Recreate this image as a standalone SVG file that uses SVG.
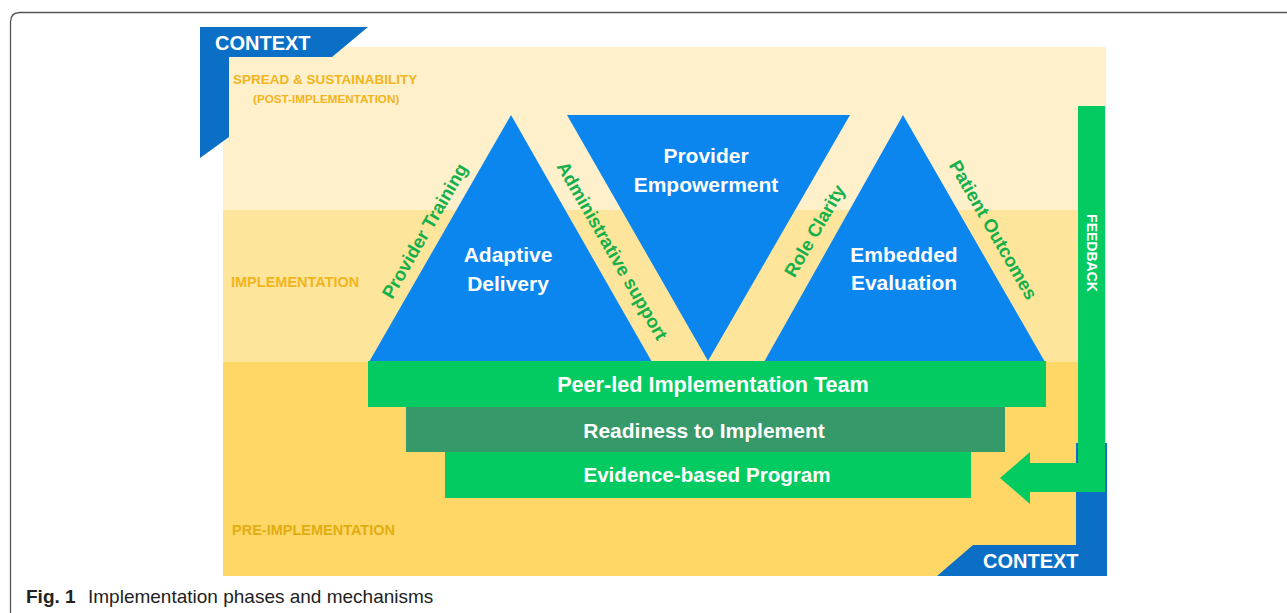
<svg xmlns="http://www.w3.org/2000/svg" width="1287" height="613" viewBox="0 0 1287 613">
  <style>
    .sans { font-family: "Liberation Sans", Arial, sans-serif; }
    .bold { font-weight: bold; }
    .white { fill: #ffffff; }
    .tri { fill: #0B86EE; }
    .ctx { fill: #0B6FC6; }
    .phase { font-family: "Liberation Sans", Arial, sans-serif; font-weight: bold; fill: #F2B51B; }
    .mech { font-family: "Liberation Sans", Arial, sans-serif; font-weight: bold; fill: #15B04B; font-size: 18.5px; }
    .node-label { font-family: "Liberation Sans", Arial, sans-serif; font-weight: bold; fill: #ffffff; font-size: 21px; text-anchor: middle; }
    .bar-green { fill: #03CB61; }
    .bar-dark { fill: #35996A; }
  </style>

  <rect x="0" y="0" width="1287" height="613" fill="#ffffff"/>

  <!-- figure frame -->
  <path d="M10.5,613 L10.5,22 Q10.5,12.5 20,12.5 L1287,12.5" fill="none" stroke="#555555" stroke-width="1.3"/>

  <!-- phase bands -->
  <g id="phase-post">
    <rect x="223" y="47" width="883" height="163" fill="#FEF0CB"/>
    <text class="phase" x="233" y="84" font-size="13.5">SPREAD &amp; SUSTAINABILITY</text>
    <text class="phase" x="253" y="103" font-size="11.7">(POST-IMPLEMENTATION)</text>
  </g>
  <g id="phase-implementation">
    <rect x="223" y="210" width="883" height="152" fill="#FEE59C"/>
    <text class="phase" x="231" y="287" font-size="14.5">IMPLEMENTATION</text>
  </g>
  <g id="phase-pre">
    <rect x="223" y="362" width="883" height="214" fill="#FED766"/>
    <text class="phase" x="232" y="535" font-size="14.5" style="fill:#E2AD12">PRE-IMPLEMENTATION</text>
  </g>

  <!-- context corners -->
  <g id="context-top">
    <polygon class="ctx" points="200,27 368,27 332,57 229,57 229,137 200,158"/>
    <text class="sans bold white" x="215" y="50" font-size="20">CONTEXT</text>
  </g>
  <g id="context-bottom">
    <polygon class="ctx" points="1076,443 1107,443 1107,576 937,576 973,545 1076,545"/>
    <text class="sans bold white" x="983" y="568" font-size="20">CONTEXT</text>
  </g>

  <!-- mechanisms -->
  <g id="adaptive-delivery">
    <polygon class="tri" points="511,115 652,362 369,362"/>
    <text class="node-label" x="508" y="262">Adaptive</text>
    <text class="node-label" x="508" y="291">Delivery</text>
  </g>
  <g id="provider-empowerment">
    <polygon class="tri" points="567,115 850,115 708,361"/>
    <text class="node-label" x="706" y="163">Provider</text>
    <text class="node-label" x="706" y="192">Empowerment</text>
  </g>
  <g id="embedded-evaluation">
    <polygon class="tri" points="903,115 1045,362 764,362"/>
    <text class="node-label" x="904" y="262">Embedded</text>
    <text class="node-label" x="904" y="290">Evaluation</text>
  </g>

  <!-- foundation layers -->
  <g id="peer-led-team">
    <rect class="bar-green" x="368" y="361" width="678" height="46"/>
    <text class="node-label" x="713" y="392" style="font-size:21.6px">Peer-led Implementation Team</text>
  </g>
  <g id="readiness">
    <rect class="bar-dark" x="406" y="407" width="599" height="45"/>
    <text class="node-label" x="704" y="438">Readiness to Implement</text>
  </g>
  <g id="evidence-based-program">
    <rect class="bar-green" x="445" y="452" width="526" height="46"/>
    <text class="node-label" x="707" y="482" style="font-size:20.6px">Evidence-based Program</text>
  </g>

  <!-- edge labels along the triangle sides -->
  <g id="edge-labels">
    <text class="mech" text-anchor="middle" transform="translate(425,231) rotate(-60)" y="6">Provider Training</text>
    <text class="mech" text-anchor="middle" transform="translate(612,251) rotate(60)" y="6">Administrative support</text>
    <text class="mech" text-anchor="middle" transform="translate(815,231) rotate(-60)" y="6">Role Clarity</text>
    <text class="mech" text-anchor="middle" transform="translate(993,230) rotate(60)" y="6">Patient Outcomes</text>
  </g>

  <!-- feedback loop -->
  <g id="connectors">
    <polygon class="bar-green" points="1078,106 1105,106 1105,492 1030,492 1030,504 1000,478 1030,452 1030,463 1078,463"/>
    <text class="sans bold white" font-size="14" text-anchor="middle" transform="translate(1087,253) rotate(90)">FEEDBACK</text>
  </g>

  <!-- caption -->
  <g id="caption">
    <text class="sans" x="26" y="603" font-size="19" fill="#222222"><tspan font-weight="bold">Fig. 1</tspan><tspan x="88">Implementation phases and mechanisms</tspan></text>
  </g>
</svg>
